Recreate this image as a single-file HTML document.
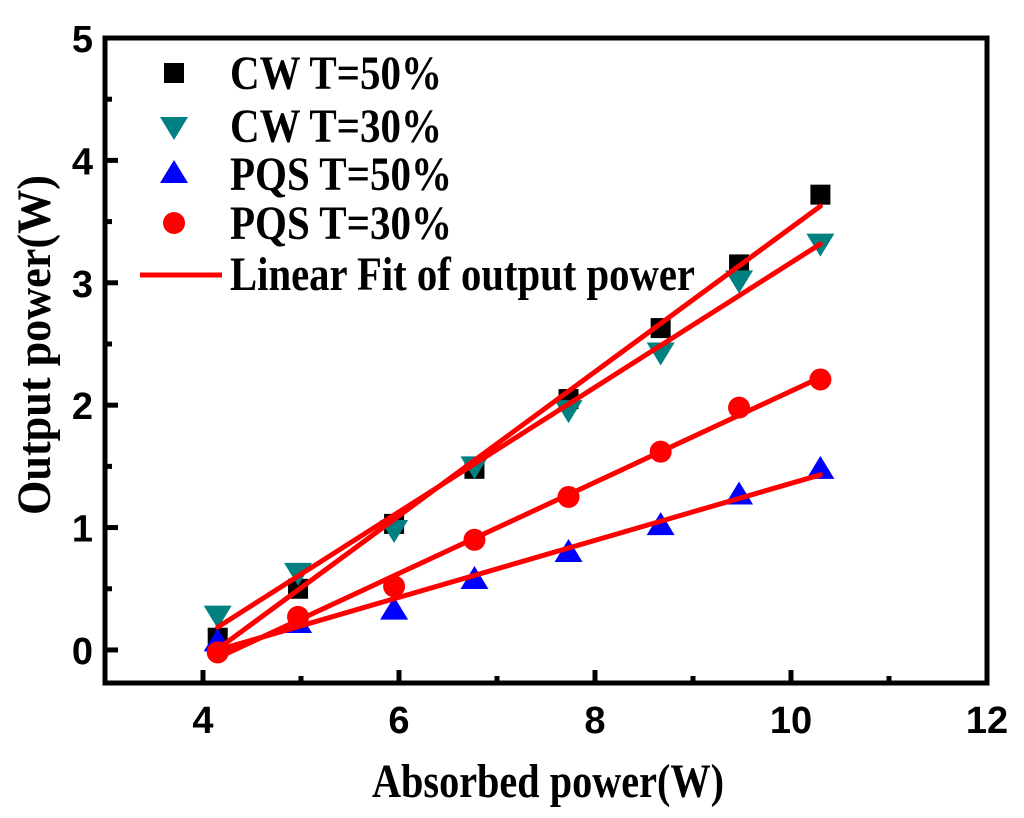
<!DOCTYPE html>
<html><head><meta charset="utf-8"><style>
html,body{margin:0;padding:0;background:#fff}
svg{display:block}
.tk{font-family:"Liberation Sans",sans-serif;font-weight:bold;font-size:38px}
.tt{font-family:"Liberation Serif",serif;font-weight:bold;font-size:48px}
</style></head><body>
<svg id="chart" width="1024" height="818" viewBox="0 0 1024 818">
<g id="marks"></g>
<g id="axes"></g>
<g id="legend">
  <rect x="164" y="63" width="20" height="20" fill="#000"/>
  <text class="tt" x="230" y="89" textLength="212" lengthAdjust="spacingAndGlyphs">CW T=50%</text>
  <polygon points="160,117 188,117 174,140" fill="#008080"/>
  <text class="tt" x="230" y="142" textLength="212" lengthAdjust="spacingAndGlyphs">CW T=30%</text>
  <polygon points="160,183 188,183 174,160" fill="#0000ff"/>
  <text class="tt" x="230" y="190" textLength="222" lengthAdjust="spacingAndGlyphs">PQS T=50%</text>
  <circle cx="174" cy="223" r="11" fill="#ff0000"/>
  <text class="tt" x="230" y="239" textLength="222" lengthAdjust="spacingAndGlyphs">PQS T=30%</text>
  <line x1="140" y1="275" x2="222" y2="275" stroke="#ff0000" stroke-width="5"/>
  <text class="tt" x="230" y="290" textLength="465" lengthAdjust="spacingAndGlyphs">Linear Fit of output power</text>
</g>
<text class="tt" x="548" y="797" text-anchor="middle" textLength="352" lengthAdjust="spacingAndGlyphs">Absorbed power(W)</text>
<text class="tt" transform="translate(50,345) rotate(-90)" text-anchor="middle" textLength="340" lengthAdjust="spacingAndGlyphs">Output power(W)</text>
</svg>
<script>
const xValues = [4.15, 4.97, 5.95, 6.77, 7.73, 8.67, 9.47, 10.3];
const cw50 = [0.1, 0.5, 1.03, 1.48, 2.05, 2.63, 3.15, 3.72];
const cw30 = [0.28, 0.63, 0.98, 1.5, 1.96, 2.43, 3.02, 3.32];
const pqs50 = [0.07, 0.22, 0.33, 0.58, 0.8, 1.02, 1.27, 1.48];
const pqs30 = [-0.02, 0.27, 0.52, 0.9, 1.25, 1.62, 1.98, 2.21];
const xTicks = [4, 6, 8, 10, 12];
const yTicks = [0, 1, 2, 3, 4, 5];

const NS = 'http://www.w3.org/2000/svg';
const L = 105, R = 987, T = 38, B = 683;
const xMin = 3, xMax = 12, yMin = -0.27, yMax = 5;
const sx = v => L + (v - xMin) / (xMax - xMin) * (R - L);
const sy = v => B - (v - yMin) / (yMax - yMin) * (B - T);
function mk(tag, attrs, parent) {
  const e = document.createElementNS(NS, tag);
  for (const k in attrs) e.setAttribute(k, attrs[k]);
  parent.appendChild(e);
  return e;
}
const marks = document.getElementById('marks');
const axes = document.getElementById('axes');

function fit(xs, ys) {
  const n = xs.length;
  const mx = xs.reduce((a, b) => a + b) / n, my = ys.reduce((a, b) => a + b) / n;
  let num = 0, den = 0;
  for (let i = 0; i < n; i++) { num += (xs[i] - mx) * (ys[i] - my); den += (xs[i] - mx) ** 2; }
  const b = num / den; return [b, my - b * mx];
}
const series = [
  { name: 'cw-50', data: cw50, shape: 'square', color: '#000' },
  { name: 'cw-30', data: cw30, shape: 'down', color: '#008080' },
  { name: 'pqs-50', data: pqs50, shape: 'up', color: '#0000ff' },
  { name: 'pqs-30', data: pqs30, shape: 'circle', color: '#ff0000' }
];
series.forEach(s => {
  s.data.forEach((v, i) => {
    const x = sx(xValues[i]), y = sy(v);
    let e;
    if (s.shape === 'square') e = mk('rect', { x: x - 10, y: y - 10, width: 20, height: 20, fill: s.color }, marks);
    else if (s.shape === 'down') e = mk('polygon', { points: `${x-14},${y-10} ${x+14},${y-10} ${x},${y+13}`, fill: s.color }, marks);
    else if (s.shape === 'up') e = mk('polygon', { points: `${x-14},${y+10} ${x+14},${y+10} ${x},${y-13}`, fill: s.color }, marks);
    else e = mk('circle', { cx: x, cy: y, r: 11, fill: s.color }, marks);
    
    
  });
});
series.forEach(s => {
  const [b, a] = fit(xValues, s.data);
  const x0 = xValues[0], x1 = xValues[xValues.length - 1];
  const ln = mk('line', { x1: sx(x0), y1: sy(a + b * x0), x2: sx(x1), y2: sy(a + b * x1), stroke: '#ff0000', 'stroke-width': 5, 'stroke-linecap': 'round' }, marks);
  
  
});

const frame = mk('rect', { x: L, y: T, width: R - L, height: B - T, fill: 'none', stroke: '#000', 'stroke-width': 5 }, axes);


for (let v = 4; v <= 11; v++) {
  const major = v % 2 === 0;
  const t = mk('line', { x1: sx(v), x2: sx(v), y1: B, y2: B - (major ? 13 : 7), stroke: '#000', 'stroke-width': 5 }, axes);
  
  
}
xTicks.forEach(v => {
  const t = mk('text', { x: sx(v), y: B + 50, 'text-anchor': 'middle', class: 'tk' }, axes);
  t.textContent = v;
  
  
});
for (let v = 0; v <= 4.5; v += 0.5) {
  const major = Number.isInteger(v);
  const t = mk('line', { x1: L, x2: L + (major ? 13 : 7), y1: sy(v), y2: sy(v), stroke: '#000', 'stroke-width': 5 }, axes);
  
  
}
yTicks.forEach(v => {
  const t = mk('text', { x: L - 12, y: sy(v) + 14, 'text-anchor': 'end', class: 'tk' }, axes);
  t.textContent = v;
  
  
});
</script>
</body></html>
